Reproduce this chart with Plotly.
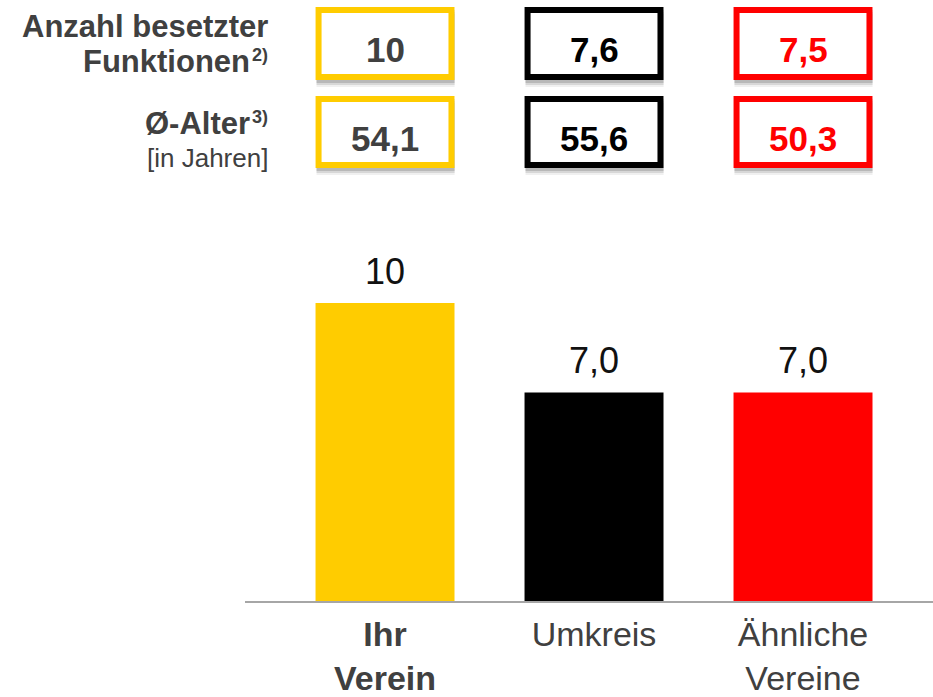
import plotly.graph_objects as go

# ---- data ----
categories = ["Ihr Verein", "Umkreis", "Ähnliche Vereine"]
tick_labels = ["<b>Ihr<br>Verein</b>", "Umkreis", "Ähnliche<br>Vereine"]
bar_values = [10, 7.0, 7.0]
bar_labels = ["10", "7,0", "7,0"]
colors = ["#FFCC00", "#000000", "#FF0000"]
text_colors = ["#404040", "#000000", "#FF0000"]
funktionen = ["10", "7,6", "7,5"]
alter = ["54,1", "55,6", "50,3"]

W, H = 933, 697
FONT = "Liberation Sans, Arial, sans-serif"
BASE = 601
PXU = 29.8

def px_x(p):
    return p / W

def px_y(p):
    return 1 - p / H

fig = go.Figure()
fig.add_trace(go.Bar(
    x=list(range(len(categories))),
    y=bar_values,
    width=0.665,
    marker=dict(color=colors, line=dict(width=0)),
    hoverinfo="skip",
))

annotations = []
shapes = []

# value labels above bars
for i, (v, t) in enumerate(zip(bar_values, bar_labels)):
    annotations.append(dict(
        x=i, y=v, xref="x", yref="y", text=t, showarrow=False,
        yanchor="bottom", yshift=9,
        font=dict(family=FONT, size=36, color="#111111"),
    ))

# top boxes
half = 0.318
rows = [(funktionen, 7, 80), (alter, 96, 168)]
for vals, top, bot in rows:
    for i, t in enumerate(vals):
        # shadow
        for off, op in [(7, 0.06), (5, 0.10), (3, 0.14)]:
            shapes.append(dict(
                type="rect", xref="x", yref="paper", layer="below",
                x0=i - half - 0.01, x1=i + half + 0.015,
                y0=px_y(bot + off), y1=px_y(top + off),
                fillcolor=f"rgba(0,0,0,{op})", line=dict(width=0),
            ))
        shapes.append(dict(
            type="rect", xref="x", yref="paper", layer="above",
            x0=i - half, x1=i + half,
            y0=px_y(bot - 3), y1=px_y(top + 3),
            fillcolor="white", line=dict(color=colors[i], width=6),
        ))
        annotations.append(dict(
            x=i, y=px_y((top + bot) / 2 + 6), xref="x", yref="paper",
            text=f"<b>{t}</b>", showarrow=False, yanchor="middle",
            font=dict(family=FONT, size=35, color=text_colors[i]),
        ))

# left labels (text, right edge px, center y px, size, bold)
left_lines = [
    ("Anzahl besetzter", 270, 26, 31, True),
    ("Funktionen", 252, 61, 31, True),
    ("2)", 270, 55, 18, True),
    ("Ø-Alter", 252, 123, 31, True),
    ("3)", 270, 117, 18, True),
    ("[in Jahren]", 270, 158, 26, False),
]
for txt, xr, yc, fs, bold in left_lines:
    annotations.append(dict(
        x=px_x(xr), y=px_y(yc), xref="paper", yref="paper",
        text=f"<b>{txt}</b>" if bold else txt, showarrow=False,
        xanchor="right", yanchor="middle",
        font=dict(family=FONT, size=fs, color="#404040"),
    ))

fig.update_layout(
    width=W, height=H,
    margin=dict(l=0, r=0, t=0, b=0, autoexpand=False),
    paper_bgcolor="white", plot_bgcolor="white",
    showlegend=False,
    xaxis=dict(
        domain=[px_x(245), 1], range=[-0.67, 2.622],
        tickmode="array", tickvals=list(range(len(categories))), ticktext=tick_labels,
        showline=True, linecolor="#a6a6a6", linewidth=2,
        showgrid=False, zeroline=False, ticks="",
        ticklabelstandoff=2, automargin=False,
        tickfont=dict(family=FONT, size=34, color="#404040"),
        fixedrange=True,
    ),
    yaxis=dict(
        domain=[1 - BASE / H, 1], range=[0, BASE / PXU],
        visible=False, showgrid=False, zeroline=False, fixedrange=True,
        automargin=False,
    ),
    annotations=annotations,
    shapes=shapes,
)

fig.write_html("out.html", post_script="document.body.style.margin='0';", config={"displayModeBar": False})
